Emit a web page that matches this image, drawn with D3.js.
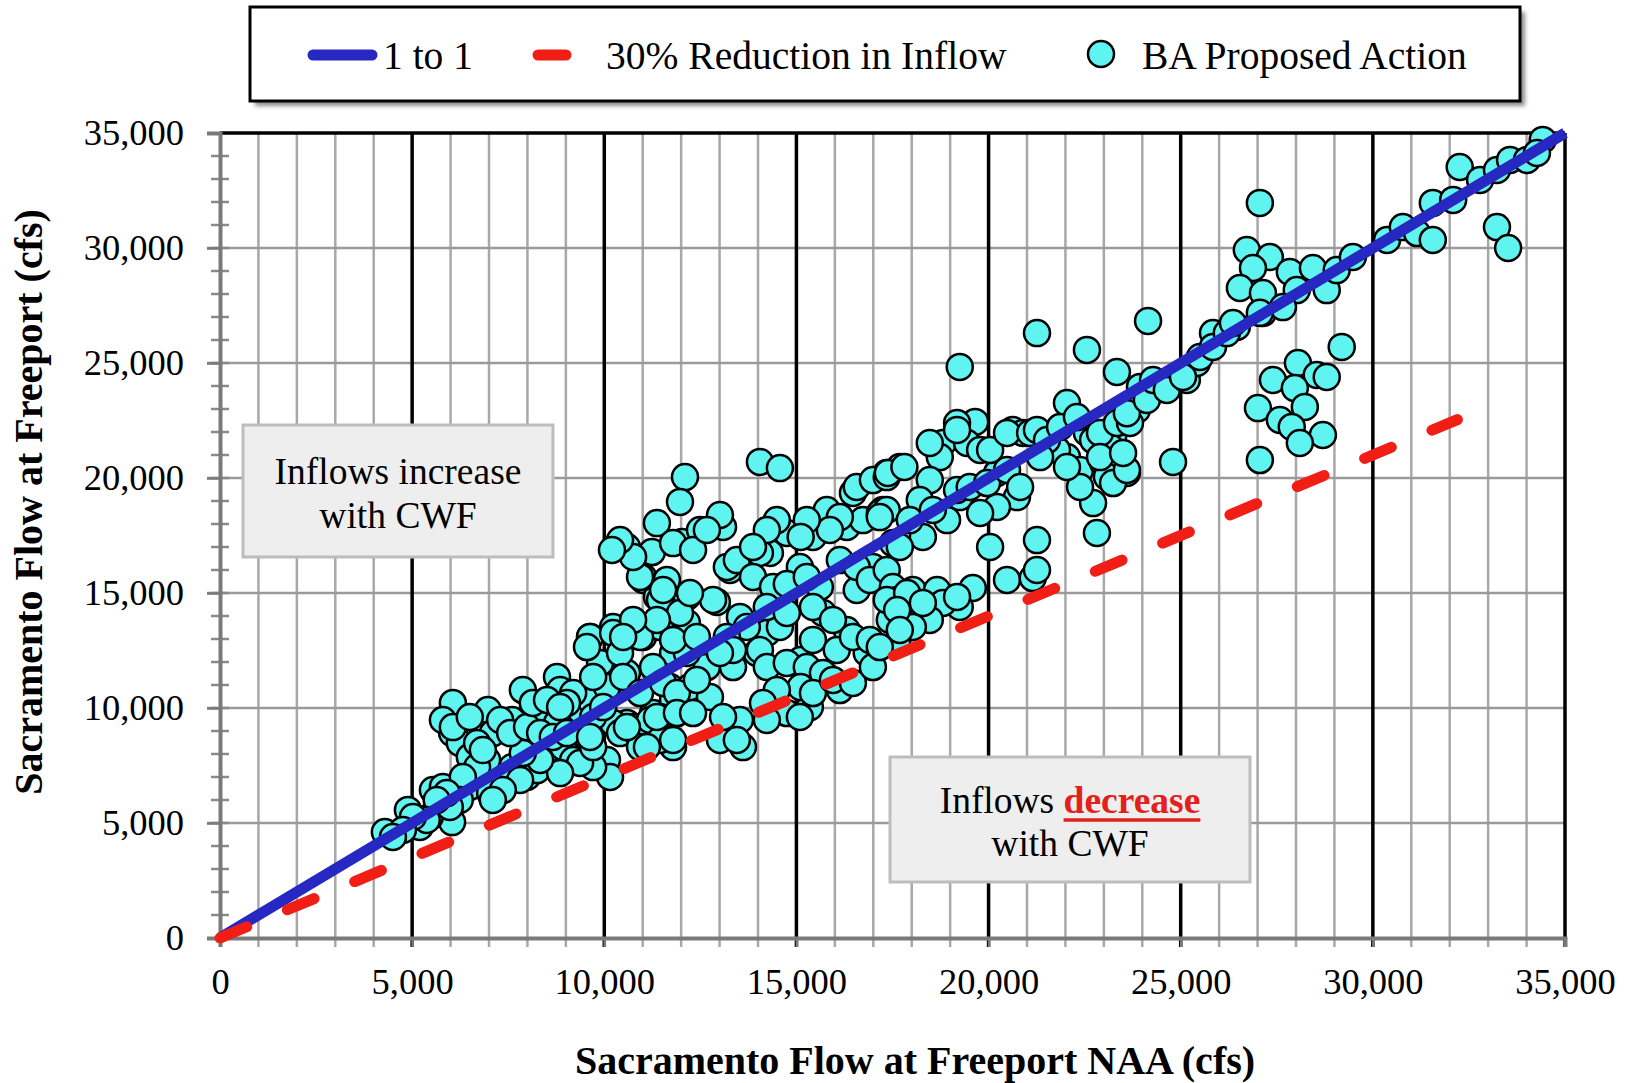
<!DOCTYPE html>
<html>
<head>
<meta charset="utf-8">
<script src="https://cdn.jsdelivr.net/npm/d3@7"></script>
<style>
  body { margin: 0; background: #fff; }
  svg { display: block; }
  text { font-family: "Liberation Serif", "Times New Roman", serif; fill: #000; }
</style>
</head>
<body>
<div id="chart"></div>
<script>
// axis ticks
var xTicks = [0, 5000, 10000, 15000, 20000, 25000, 30000, 35000];
var yTicks = [0, 5000, 10000, 15000, 20000, 25000, 30000, 35000];

// reference lines (NAA cfs, BA cfs)
var oneToOne = [[0, 0], [35000, 35000]];
var reduction30 = [[0, 0], [32200, 22540]];

// BA Proposed Action vs NAA (cfs)
var baPoints = [
	[4290,4610],[4890,5570],[5540,6430],[5800,6570],[6040,5040],[5460,5260],[5200,4830],[6060,10220],[6040,8910],[6240,8480],
	[6500,7870],[6970,9910],[7600,9480],[7100,8910],[7880,10780],[8770,11350],[8850,10780],[8250,9780],[8770,9350],[7600,7430],
	[7290,7000],[6500,6570],[7030,6300],[7990,7000],[8250,7300],[8510,8170],[8930,8300],[9190,7740],[9550,8740],[9370,9910],
	[9710,10650],[10070,10650],[9630,13090],[10230,13520],[11010,13090],[11010,15570],[11370,14830],[10590,9350],[10070,7740],[10150,7000],
	[11010,8480],[11270,9780],[11790,8300],[11710,10910],
	[11450,13520],[11790,12390],[11270,11780],[11790,10350],[11450,9610],[10750,9170],[10230,9350],[9890,10910],[9630,10350],[9190,10650],
	[9030,10220],[9710,7430],[9370,7610],[8850,7170],[8330,7740],[7880,8040],[7810,6870],[7360,6430],[7100,6000],[6950,7740],
	[6690,7430],[6320,7000],[6240,6000],[5980,5700],[5900,6300],[5640,6000],[5380,5130],[5020,5260],[4760,4700],[4500,4390],
	[5800,9480],[6060,9170],[6500,9610],[6690,8480],[6840,8170],[7290,9480],[7550,8910],[7990,9170],[8140,10220],[8510,10350],
	[8850,10040],[8330,8910],[8660,8740],[9030,8910],[9710,9610],[9710,8300],[10410,8910],[10850,8910],[10930,8300],[11190,9480],
	[11450,8610],
	[14050,20700],[14570,20430],[12100,20040],[11970,18960],[11370,18040],[10590,17000],[11240,16780],[12020,17220],[12490,17740],[13090,17870],
	[13010,18390],[13270,16000],[11010,15700],[11450,14700],[12150,14830],[12930,14610],[11630,15570],[12150,13700],[10930,13090],[9630,13090],
	[9890,11960],[10070,10910],[10590,11520],[10590,9170],[9630,8740],[11110,8300],[11370,9610],[11790,8610],[12230,10910],[12670,11780],
	[12750,10480],[13350,11780],[13530,9480],[13010,8610],[13610,8300],[14230,13260],[13970,12390],[15110,12090],[15430,12960],[15690,14130],
	[14570,13520],[16310,13390],[15350,10040],[14570,9910],[16130,10780],[16830,12390],[15790,11350],[14310,16740],[14750,17610],[15430,17440],
	[15790,18610],[15090,16130],[15610,15260],[16310,17870],[16470,19350],[17250,18610],[17350,20220],[16990,16130],[16570,15130],[17510,14700],
	[10230,13260],[9550,12650],[10410,12390],[9710,11350],[10490,11350],[9970,10040],[10930,10650],[11530,11090],[11890,10650],[11890,9780],
	[12310,9780],[12410,11220],[12150,12390],[11970,14130],[11370,13830],[10750,13830],[10490,13090],[11790,12960],[12410,13090],[12830,14700],
	[12230,15000],[11530,15130],[10930,15700],[10750,16570],[10410,17300],[10200,16870],[11790,17170],[12310,16870],[12670,17740],[13190,16130],
	[13450,16430],[14050,16740],[13870,15700],[14390,15260],[14750,15390],[15270,15700],[14230,14390],[14750,14130],[13530,13960],[13710,13520],
	[13190,13090],[13350,12520],[13010,12390],[14050,12520],[14230,11780],[14750,11960],[15270,11780],[15690,11520],[16050,12520],[16470,13090],
	[15430,14390],[15950,13830],[15110,10910],[14490,10780],[14130,10220],[14750,9780],[15430,10650],[15950,11220],[16470,11090],[16910,12960],
	[16990,11780],[16570,19610],[16990,19910],[16730,18170],[17170,18480],[16130,18300],[15870,17740],[15270,18170],[15110,17440],[14490,18170],
	[14230,17740],[13870,17000],[16130,16430],[16570,16130],[16910,15570],[17350,16000],[17510,17170],[17510,15260],[17430,13830],[13450,8610],
	[13090,9610],[14230,9480],[15090,9610],
	[19250,24830],[21260,26300],[22560,25570],[23340,24610],[24800,20700],[22040,23260],[19650,22440],[19180,22390],[18810,21520],[19440,21520],
	[18730,20910],[17690,20480],[17350,20040],[18470,19910],[18210,19040],[17350,18610],[20630,22090],[20890,21960],[20220,20220],[19250,19170],
	[20740,19170],[20220,18740],[19780,18480],[18920,18170],[18290,17440],[17690,17000],[20040,17000],[21260,17300],[20480,15570],[21150,15650],
	[19590,15220],[18730,14570],[17620,14700],[18030,15130],[18290,13960],[19250,14390],[17620,12830],[17170,12650],[22040,20910],[22380,20350],
	[22720,18910],[22820,17610],[23420,20910],[23600,20220],[22980,20650],[23240,21780],[23860,22960],[23940,23960],[24980,24390],[22560,21960],
	[21780,21220],
	[17380,20220],[17810,20480],[17950,18170],[17170,18300],[18550,18610],[19180,19480],[19510,19610],[19960,19780],[20480,20350],[20820,19610],
	[19780,21220],[18470,21520],[19180,22090],[20040,21220],[20480,21960],[21080,21960],[21260,22090],[21520,21650],[21340,20910],[21860,22220],
	[22300,22650],[22720,21650],[23160,21350],[22900,21960],[23340,22390],[23680,22390],[23600,22820],[24120,23390],[24280,24260],[24640,23830],
	[25160,24260],[25420,25000],[22380,19610],[22040,20480],[23080,20050],[23240,19780],[23600,20350],[22900,20910],[23500,21090],[17350,14700],
	[17880,15000],[18660,15130],[18810,14570],[18470,13830],[18030,13520],[18290,14570],[19180,14830],[17620,14260],[17690,13390],[21260,16000],
	[24150,26830],
	[29190,25700],[28050,25000],[28540,24480],[28800,24390],[27400,24260],[27970,23910],[27010,23040],[28230,23090],[27580,22520],[27890,22220],
	[28700,21870],[28100,21520],[27060,20780],[25840,26300],[25500,25260],[26460,26570],[27140,27170],[25060,24390],[25840,25700],[26200,26300],
	[27060,31960],[26720,29910],[27320,29610],[26880,29130],[27840,28960],[28440,29130],[26540,28260],[27140,28040],[28020,28170],[28800,28170],
	[29060,29040],[29480,29610],[27660,27430],[27060,27180],[26360,26740],[30370,30350],[30780,30910],[31150,30650],[31560,30350],[31560,31960],
	[32260,33520],[32090,32090],[32790,32960],[33230,33390],[33570,33830],[34010,33830],[34420,34700],[34270,34130],[33230,30910],[33520,30000]
];

var width = 1632;
var height = 1083;
var plotLeft = 220, plotRight = 1565, plotTop = 133, plotBottom = 938;

var svg = d3.select("#chart")
	.append("svg")
	.attr("width", width)
	.attr("height", height);

var x = d3.scaleLinear().domain([0, 35000]).range([plotLeft, plotRight]);
var y = d3.scaleLinear().domain([0, 35000]).range([plotBottom, plotTop]);

// legend shadow filter
var defs = svg.append("defs");
defs.append("filter").attr("id", "blur")
	.append("feGaussianBlur").attr("stdDeviation", 2);

// vertical grid every 1000, black every 5000
var minorX = d3.range(1000, 35000, 1000);
svg.append("g").selectAll("line")
	.data(minorX.filter(function(d) { return d % 5000 !== 0; }))
	.enter().append("line")
	.attr("x1", function(d) { return x(d); })
	.attr("x2", function(d) { return x(d); })
	.attr("y1", plotTop)
	.attr("y2", plotBottom + 9)
	.attr("stroke", "#a8a8a8")
	.attr("stroke-width", 2.5);

// horizontal grid every 5000
svg.append("g").selectAll("line")
	.data(yTicks.filter(function(d) { return d > 0 && d < 35000; }))
	.enter().append("line")
	.attr("x1", plotLeft - 13)
	.attr("x2", plotRight)
	.attr("y1", function(d) { return y(d); })
	.attr("y2", function(d) { return y(d); })
	.attr("stroke", "#9a9a9a")
	.attr("stroke-width", 2.5);

svg.append("g").selectAll("line")
	.data(xTicks.filter(function(d) { return d > 0 && d < 35000; }))
	.enter().append("line")
	.attr("x1", function(d) { return x(d); })
	.attr("x2", function(d) { return x(d); })
	.attr("y1", plotTop)
	.attr("y2", plotBottom + 9)
	.attr("stroke", "#000")
	.attr("stroke-width", 3.5);

// top and right frame
svg.append("line")
	.attr("x1", plotLeft).attr("x2", plotRight)
	.attr("y1", plotTop).attr("y2", plotTop)
	.attr("stroke", "#000").attr("stroke-width", 3.5);
svg.append("line")
	.attr("x1", plotRight).attr("x2", plotRight)
	.attr("y1", plotTop).attr("y2", plotBottom + 9)
	.attr("stroke", "#000").attr("stroke-width", 3.5);

// y minor ticks
svg.append("g").selectAll("line")
	.data(d3.range(1000, 35000, 1000))
	.enter().append("line")
	.attr("x1", plotLeft - 9)
	.attr("x2", plotLeft + 9)
	.attr("y1", function(d) { return y(d); })
	.attr("y2", function(d) { return y(d); })
	.attr("stroke", "#8a8a8a")
	.attr("stroke-width", 2.5);

// axes
var yAxis = d3.axisLeft(y)
	.tickValues(yTicks)
	.tickFormat(d3.format(","))
	.tickSize(13)
	.tickPadding(23);
var gy = svg.append("g")
	.attr("transform", "translate(" + plotLeft + ",0)")
	.call(yAxis);

var xAxis = d3.axisBottom(x)
	.tickValues(xTicks)
	.tickFormat(d3.format(","))
	.tickSize(9)
	.tickPadding(21);
var gx = svg.append("g")
	.attr("transform", "translate(0," + plotBottom + ")")
	.call(xAxis);

[gx, gy].forEach(function(g) {
	g.select(".domain").attr("stroke", "#7a7a7a").attr("stroke-width", 4);
	g.selectAll(".tick line").attr("stroke", "#7a7a7a").attr("stroke-width", 2.5);
	g.selectAll(".tick text")
		.attr("font-family", "Liberation Serif, Times New Roman, serif")
		.attr("font-size", 36.5)
		.attr("fill", "#000");
});

// points
svg.append("g").selectAll("circle")
	.data(baPoints)
	.enter().append("circle")
	.attr("cx", function(d) { return x(d[0]); })
	.attr("cy", function(d) { return y(d[1]); })
	.attr("r", 13)
	.attr("fill", "#5ff4f0")
	.attr("stroke", "#000")
	.attr("stroke-width", 2.5);

var line = d3.line()
	.x(function(d) { return x(d[0]); })
	.y(function(d) { return y(d[1]); });

svg.append("path")
	.datum(oneToOne)
	.attr("d", line)
	.attr("fill", "none")
	.attr("stroke", "#2727c2")
	.attr("stroke-width", 11);

svg.append("path")
	.datum(reduction30)
	.attr("d", line)
	.attr("fill", "none")
	.attr("stroke", "#f01e14")
	.attr("stroke-width", 11)
	.attr("stroke-linecap", "round")
	.attr("stroke-dasharray", "29,44");

// annotation boxes
function noteBox(bx, by, bw, bh) {
	svg.append("rect")
		.attr("x", bx).attr("y", by)
		.attr("width", bw).attr("height", bh)
		.attr("fill", "#eeeeee")
		.attr("stroke", "#bdbdbd")
		.attr("stroke-width", 3);
}
noteBox(243, 425, 310, 132);
svg.append("text").attr("x", 398).attr("y", 484)
	.attr("text-anchor", "middle").attr("font-size", 37.5)
	.text("Inflows increase");
svg.append("text").attr("x", 398).attr("y", 528)
	.attr("text-anchor", "middle").attr("font-size", 37.5)
	.text("with CWF");

noteBox(890, 757, 360, 125);
var t2 = svg.append("text").attr("x", 1070).attr("y", 813)
	.attr("text-anchor", "middle").attr("font-size", 37.5);
t2.append("tspan").text("Inflows ");
t2.append("tspan")
	.attr("font-weight", "bold")
	.style("fill", "#e3201a")
	.text("decrease");
svg.append("text").attr("x", 1070).attr("y", 856)
	.attr("text-anchor", "middle").attr("font-size", 37.5)
	.text("with CWF");
// underline under the red word
var node = t2.node();
var start = "Inflows ".length;
var ext0 = node.getExtentOfChar(start);
var ext1 = node.getExtentOfChar(node.getNumberOfChars() - 1);
svg.append("line")
	.attr("x1", ext0.x).attr("x2", ext1.x + ext1.width)
	.attr("y1", 820).attr("y2", 820)
	.attr("stroke", "#e3201a").attr("stroke-width", 3.5);

// axis titles
svg.append("text")
	.attr("transform", "translate(42,502) rotate(-90)")
	.attr("text-anchor", "middle")
	.attr("font-size", 40)
	.attr("font-weight", "bold")
	.text("Sacramento Flow at Freeport (cfs)");
svg.append("text")
	.attr("x", 915).attr("y", 1074)
	.attr("text-anchor", "middle")
	.attr("font-size", 40)
	.attr("font-weight", "bold")
	.text("Sacramento Flow at Freeport NAA (cfs)");

// legend
var lg = svg.append("g");
lg.append("rect")
	.attr("x", 255).attr("y", 12).attr("width", 1270).attr("height", 94)
	.attr("fill", "#8c8c8c").attr("filter", "url(#blur)");
lg.append("rect")
	.attr("x", 250).attr("y", 7).attr("width", 1270).attr("height", 94)
	.attr("fill", "#fff").attr("stroke", "#000").attr("stroke-width", 3);
lg.append("line")
	.attr("x1", 313).attr("x2", 372).attr("y1", 55).attr("y2", 55)
	.attr("stroke", "#2727c2").attr("stroke-width", 11).attr("stroke-linecap", "round");
lg.append("text").attr("x", 383).attr("y", 69).attr("font-size", 39.5).text("1 to 1");
lg.append("line")
	.attr("x1", 538).attr("x2", 566).attr("y1", 55).attr("y2", 55)
	.attr("stroke", "#f01e14").attr("stroke-width", 11).attr("stroke-linecap", "round");
lg.append("text").attr("x", 606).attr("y", 69).attr("font-size", 39.5).text("30% Reduction in Inflow");
lg.append("circle")
	.attr("cx", 1101).attr("cy", 54).attr("r", 13)
	.attr("fill", "#5ff4f0").attr("stroke", "#000").attr("stroke-width", 2.5);
lg.append("text").attr("x", 1142).attr("y", 69).attr("font-size", 39.5).text("BA Proposed Action");
</script>
</body>
</html>
